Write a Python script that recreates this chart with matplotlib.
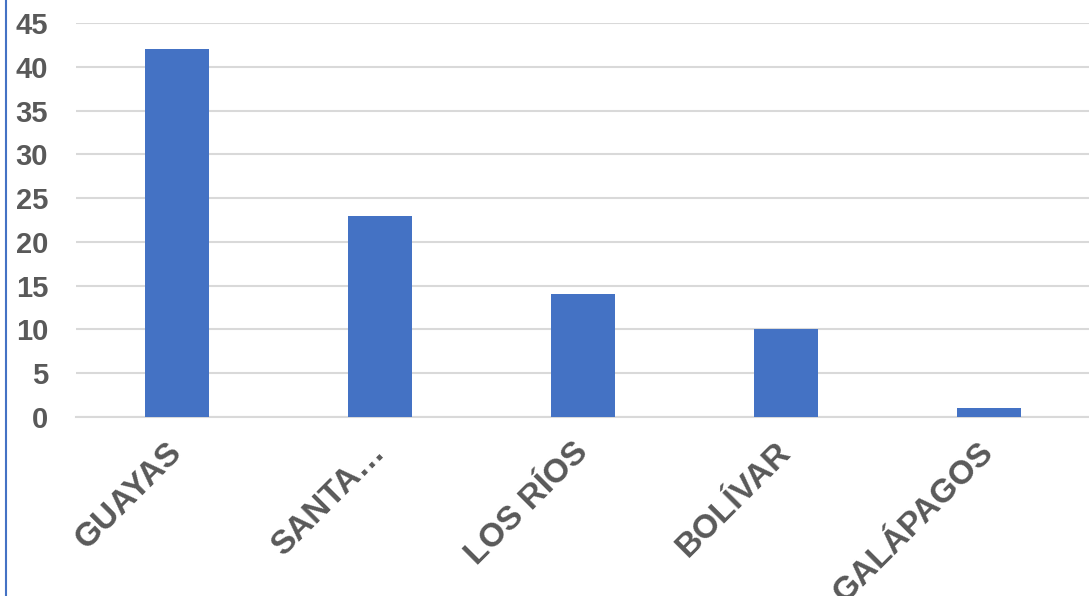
import numpy as np
import matplotlib.pyplot as plt
from matplotlib.lines import Line2D

provincias = ['GUAYAS', 'SANTA…', 'LOS RÍOS', 'BOLÍVAR', 'GALÁPAGOS']
valores = [42, 23, 14, 10, 1]
yticks = [0, 5, 10, 15, 20, 25, 30, 35, 40, 45]

plt.rcParams['font.family'] = ['Liberation Sans', 'DejaVu Sans']

fig = plt.figure(figsize=(10.89, 5.96), dpi=100)
ax = fig.add_axes([76 / 1089, 179 / 596, 1014 / 1089, 394 / 596])

x = np.arange(len(provincias))
ax.bar(x, valores, width=0.315, color='#4472C4', zorder=3)

ax.set_xlim(-0.5, len(provincias) - 0.5)
ax.set_ylim(0, 45)
ax.set_yticks(yticks)
ax.grid(axis='y', color='#D9D9D9', linewidth=1.5, zorder=0)
for s in ['top', 'right', 'left']:
    ax.spines[s].set_visible(False)
ax.spines['bottom'].set_color('#D9D9D9')
ax.spines['bottom'].set_linewidth(1.5)

ax.tick_params(axis='both', length=0, labelcolor='#595959')
ax.tick_params(axis='y', pad=20, labelsize=21)
ax.set_xticks(x)
ax.set_xticklabels(provincias, rotation=45, ha='right', va='center',
                   rotation_mode='anchor', fontweight='bold')
for lbl in ax.get_yticklabels():
    lbl.set_fontweight('bold')
ax.tick_params(axis='x', pad=22, labelsize=24)

# left border line of the chart area
fig.add_artist(Line2D([6 / 1089, 6 / 1089], [0, 1], color='#4472C4', linewidth=1.5))

fig.savefig('out.png', dpi=100)
